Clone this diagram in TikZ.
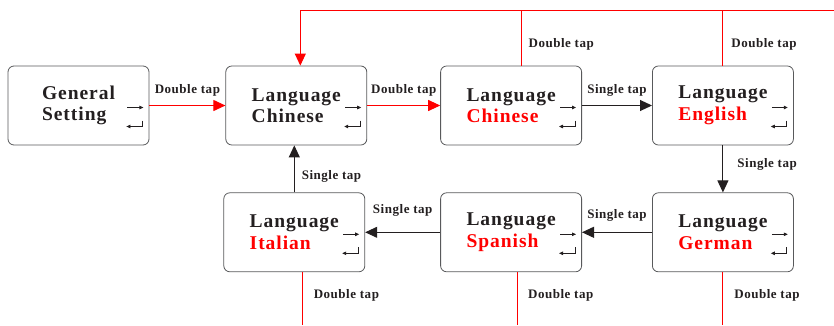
\documentclass[tikz,border=0pt]{standalone}
\usepackage{fontspec}
\setmainfont{Liberation Serif}
\newfontfamily\boxfont{Liberation Serif}[LetterSpace=5]
\newfontfamily\tapfont{Liberation Serif}[LetterSpace=4]
\usetikzlibrary{arrows.meta, positioning}
\definecolor{ink}{HTML}{231F20}
\definecolor{boxline}{HTML}{58595B}
\definecolor{tapred}{HTML}{FF0000}

\begin{document}
\begin{tikzpicture}[
  x=1pt, y=1pt,
  node distance=47pt and 73pt,
  box/.style={draw=boxline, line width=0.8pt, rounded corners=6pt, minimum width=141pt, minimum height=79pt, align=left, text=ink, font=\boxfont\bfseries\fontsize{19.5}{21.5}\selectfont},
  lbl/.style={text=ink, font=\tapfont\bfseries\fontsize{13}{14}\selectfont, inner sep=2pt},
  arr/.style={-{Triangle[length=12pt,width=11pt]}, line width=1pt, draw=ink},
  redarr/.style={-{Triangle[length=12pt,width=11pt]}, line width=1pt, draw=tapred},
  redline/.style={draw=tapred, line width=1pt},
  key/.style={-{Triangle[length=4pt,width=3.5pt]}, line width=0.8pt, draw=ink}
]
\useasboundingbox (0,0) rectangle (834,325);

\node[box] (gen) at (78.5,219.5) {General\\Setting};
\node[box, right=76pt of gen] (chn) {Language\\Chinese};
\node[box, right=73pt of chn] (chnR) {Language\\\textcolor{tapred}{Chinese}};
\node[box, right=70pt of chnR] (eng) {Language\\\textcolor{tapred}{English}};
\node[box, below=of eng] (ger) {Language\\\textcolor{tapred}{German}};
\node[box, left=70pt of ger] (spa) {Language\\\textcolor{tapred}{Spanish}};
\node[box, left=75pt of spa] (ita) {Language\\\textcolor{tapred}{Italian}};

\coordinate (top) at (834,315);
\coordinate (bot) at (0,0);

% key icons in every box
\foreach \b in {gen,chn,chnR,eng,ger,spa,ita} {
  \draw[key] ([xshift=-22pt,yshift=-2pt]\b.east) -- ++(16pt,0);
  \draw[key] ([xshift=-7pt,yshift=-15pt]\b.east) |- ++(-16pt,-6pt);
}

\draw[redarr] (gen) -- node[lbl, above=7pt] (tapA) {Double tap} (chn);
\draw[redarr] (chn) -- node[lbl, above=7pt] (tapB) {Double tap} (chnR);
\draw[arr] (chnR) -- node[lbl, above=7pt] (tapC) {Single tap} (eng);
\draw[arr] (eng) -- node[lbl, right=12pt, yshift=4pt] (tapD) {Single tap} (ger);
\draw[arr] (ger) -- node[lbl, above=8pt] (tapE) {Single tap} (spa);
\draw[arr] (spa) -- node[lbl, above=13pt] (tapF) {Single tap} (ita);
\draw[arr] (ita.north) -- node[lbl, right=5pt, yshift=-8pt] (tapG) {Single tap} (ita.north |- chn.south);

% red loop back to the first language box
\draw[redarr] (top) -| ([xshift=4pt]chn.north);
\draw[redline] ([xshift=10pt]chnR.north) -- node[lbl, right=5pt, yshift=-7pt] (tapH) {Double tap} ([xshift=10pt]chnR.north |- top);
\draw[redline] (eng.north) -- node[lbl, right=6pt, yshift=-7pt] (tapI) {Double tap} (eng.north |- top);

\draw[redline] ([xshift=8pt]ita.south) -- node[lbl, right=9pt, yshift=3pt] (tapJ) {Double tap} ([xshift=8pt]ita.south |- bot);
\draw[redline] ([xshift=6.5pt]spa.south) -- node[lbl, right=8pt, yshift=3pt] (tapK) {Double tap} ([xshift=6.5pt]spa.south |- bot);
\draw[redline] (ger.south) -- node[lbl, right=9pt, yshift=3pt] (tapL) {Double tap} (ger.south |- bot);

\end{tikzpicture}
\end{document}
